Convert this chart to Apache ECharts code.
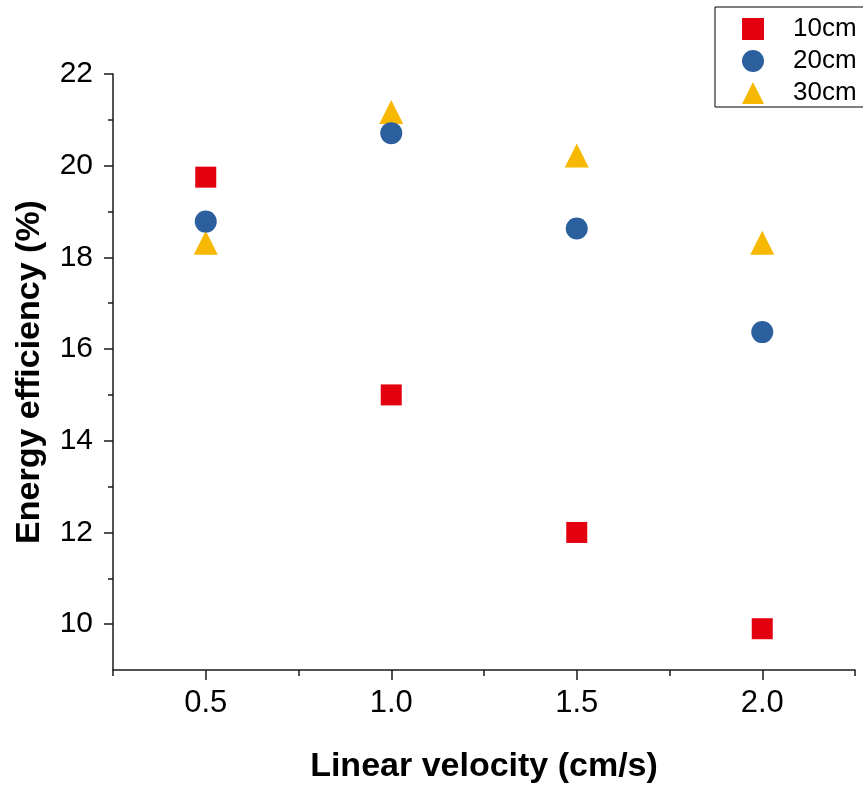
<!DOCTYPE html>
<html>
<head>
<meta charset="utf-8">
<script src="https://cdn.jsdelivr.net/npm/echarts@6/dist/echarts.min.js"></script>
<style>html,body{margin:0;padding:0;background:#fff}#c{width:863px;height:786px}</style>
</head>
<body>
<div id="c"></div>
<script>
const velocities = [0.5, 1.0, 1.5, 2.0];
const seriesNames = ['10cm', '20cm', '30cm'];
const eff10 = [19.75, 15.0, 12.0, 9.9];
const eff20 = [18.78, 20.71, 18.63, 16.37];
const eff30 = [18.32, 21.17, 20.22, 18.32];
const xMajorTicks = [0.5, 1.0, 1.5, 2.0];
const xMinorTicks = [0.25, 0.75, 1.25, 1.75, 2.25];
const yMajorTicks = [10, 12, 14, 16, 18, 20, 22];
const yMinorTicks = [11, 13, 15, 17, 19, 21];

const font = 'Liberation Sans, Arial, sans-serif';
const axisColor = '#1a1a1a';
const colors = ['#e3000f', '#2c5f9e', '#f6b800'];
const symbols = ['rect', 'circle', 'triangle'];
const sizes = [21, 22, 24];
const dataSets = [eff10, eff20, eff30];

const chart = echarts.init(document.getElementById('c'), null, {renderer: 'canvas'});
const grid = {left: 113, right: 8, top: 74, bottom: 116, containLabel: false, outerBoundsMode: 'none'};

const option = {
  backgroundColor: '#fff',
  animation: false,
  grid: grid,
  legend: {
    orient: 'vertical',
    left: 715, top: 7,
    padding: [9, 30, 1, 27],
    itemGap: 6,
    itemWidth: 22, itemHeight: 22,
    borderColor: '#000', borderWidth: 1,
    textStyle: {fontFamily: font, fontSize: 26, color: '#000', padding: [0, 0, 0, 24]},
    data: seriesNames.map((n, i) => ({name: n, icon: symbols[i]}))
  },
  xAxis: [{
    type: 'value', min: 0.25, max: 2.25,
    splitLine: {show: false},
    axisLine: {show: true, onZero: false, lineStyle: {color: axisColor, width: 1.5}},
    axisTick: {show: true, customValues: xMajorTicks, length: 10, lineStyle: {color: axisColor, width: 1.5}},
    axisLabel: {customValues: xMajorTicks, formatter: v => v.toFixed(1), fontFamily: font, fontSize: 31, color: '#000', margin: 18},
    name: 'Linear velocity (cm/s)', nameLocation: 'middle', nameGap: 80,
    nameTextStyle: {fontFamily: font, fontSize: 34, fontWeight: 'bold', color: '#000'}
  }, {
    type: 'value', min: 0.25, max: 2.25, position: 'bottom',
    splitLine: {show: false},
    axisLine: {show: false, onZero: false},
    axisTick: {show: true, customValues: xMinorTicks, length: 6, lineStyle: {color: axisColor, width: 1.5}},
    axisLabel: {show: false}
  }],
  yAxis: [{
    type: 'value', min: 9, max: 22,
    splitLine: {show: false},
    axisLine: {show: true, onZero: false, lineStyle: {color: axisColor, width: 1.5}},
    axisTick: {show: true, customValues: yMajorTicks, length: 9, lineStyle: {color: axisColor, width: 1.5}},
    axisLabel: {customValues: yMajorTicks, fontFamily: font, fontSize: 30, color: '#000', margin: 20},
    name: 'Energy efficiency (%)', nameLocation: 'middle', nameGap: 66,
    nameTextStyle: {fontFamily: font, fontSize: 34, fontWeight: 'bold', color: '#000'}
  }, {
    type: 'value', min: 9, max: 22, position: 'left',
    splitLine: {show: false},
    axisLine: {show: false, onZero: false},
    axisTick: {show: true, customValues: yMinorTicks, length: 5, lineStyle: {color: axisColor, width: 1.5}},
    axisLabel: {show: false}
  }],
  series: seriesNames.map((n, i) => ({
    name: n, type: 'scatter', xAxisIndex: 0, yAxisIndex: 0,
    symbol: symbols[i], symbolSize: sizes[i],
    itemStyle: {color: colors[i], opacity: 1},
    z: i === 1 ? 3 : (i === 2 ? 2 : 4),
    data: velocities.map((x, j) => [x, dataSets[i][j]])
  }))
};
chart.setOption(option);
</script>
</body>
</html>
